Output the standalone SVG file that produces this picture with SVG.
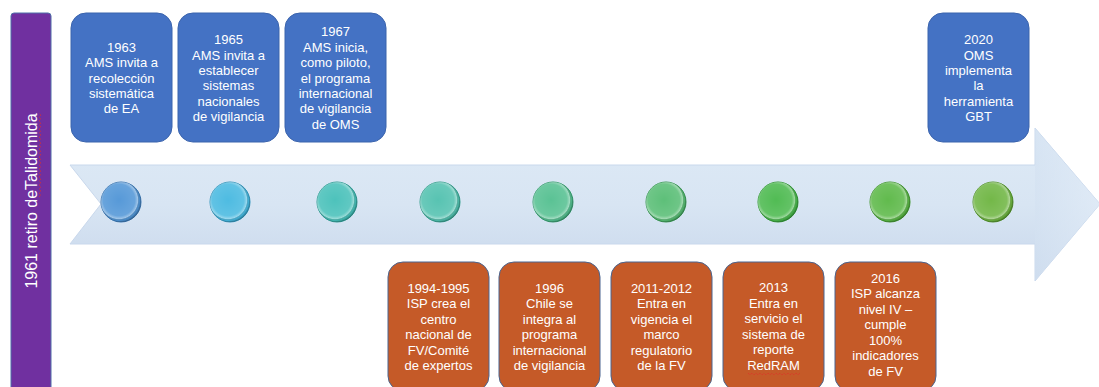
<svg xmlns="http://www.w3.org/2000/svg" width="1099" height="387" viewBox="0 0 1099 387">
<defs>
<style>
.t{font-family:"Liberation Sans",Arial,sans-serif;font-size:13px;fill:#ffffff;text-anchor:middle}
.bb{fill:#4472C4;stroke:#3B64AD;stroke-width:1}
.ob{fill:#C55A28;stroke:#4A6590;stroke-width:1}
.dot{stroke-width:1}
.hl{fill:url(#hl)}
.sq{fill:none;stroke:#E0302A;stroke-width:0.8;stroke-dasharray:1.2 1}
</style>
<linearGradient id="arr" x1="0" y1="0" x2="0" y2="1">
<stop offset="0" stop-color="#DEEAF6"/>
<stop offset="0.5" stop-color="#D8E5F3"/>
<stop offset="1" stop-color="#C8D7EB"/>
</linearGradient>
<linearGradient id="head" x1="0" y1="0" x2="1" y2="0">
<stop offset="0" stop-color="#D3E1F1"/>
<stop offset="1" stop-color="#E3EDF8"/>
</linearGradient>
<radialGradient id="hl" cx="0.45" cy="0.45" r="0.55">
<stop offset="0" stop-color="#ffffff" stop-opacity="0.05"/>
<stop offset="0.72" stop-color="#ffffff" stop-opacity="0.15"/>
<stop offset="0.85" stop-color="#ffffff" stop-opacity="0.45"/>
<stop offset="0.93" stop-color="#000000" stop-opacity="0.05"/>
<stop offset="1" stop-color="#000000" stop-opacity="0.25"/>
</radialGradient>
</defs>
<rect width="1099" height="387" fill="#ffffff"/>

<g id="side-label">
<path d="M11,16 Q11,13 14,13 L48,13 Q51,13 51,16 L51,392 L11,392 Z" fill="#7030A0" stroke="#4F6FA8" stroke-width="1"/>
<text transform="translate(37,201) rotate(-90)" style="font-family:'Liberation Sans',Arial,sans-serif;font-size:16px;fill:#ffffff;text-anchor:middle">1961 retiro deTalidomida</text>
<path class="sq" d="M39,197 L41,195 L39,193 L41,191 L39,189 L41,187 L39,185 L41,183 L39,181 L41,179 L39,177 L41,175 L39,173 L41,171 L39,169 L41,167 L39,165 L41,163 L39,161 L41,159 L39,157 L41,155 L39,153 L41,151 L39,149 L41,147 L39,145 L41,143 L39,141 L41,139 L39,137 L41,135 L39,133 L41,131 L39,129 L41,127 L39,125 L41,123 L39,121 L41,119 L39,117 L41,115 L39,113"/>
</g>

<g id="timeline">
<path d="M70,165 L1035,165 L1035,128 L1100,204 L1035,281 L1035,244 L70,244 L101,204 Z" fill="url(#arr)" stroke="#C9D8EC" stroke-width="1"/>
<path d="M1035,165 L1035,128 L1100,204 L1035,281 L1035,244 Z" fill="url(#head)" opacity="0.6"/>
</g>

<g id="connectors"></g>

<g id="dots">
<circle class="dot" cx="121" cy="202" r="20" fill="#4E94D6" stroke="#3B78B5"/>
<circle class="dot" cx="230" cy="202" r="20" fill="#45B8E0" stroke="#3397BE"/>
<circle class="dot" cx="337" cy="202" r="20" fill="#44BFB8" stroke="#2F9E97"/>
<circle class="dot" cx="440" cy="202" r="20" fill="#4FC0AE" stroke="#35A08F"/>
<circle class="dot" cx="553" cy="202" r="20" fill="#52BF8F" stroke="#379E70"/>
<circle class="dot" cx="666" cy="202" r="20" fill="#55BC72" stroke="#3A9B55"/>
<circle class="dot" cx="778" cy="202" r="20" fill="#48B84B" stroke="#329A36"/>
<circle class="dot" cx="890" cy="202" r="20" fill="#59B744" stroke="#42982F"/>
<circle class="dot" cx="993" cy="202" r="20" fill="#6CB43F" stroke="#54952C"/>
<circle class="hl" cx="121" cy="202" r="20"/>
<circle class="hl" cx="230" cy="202" r="20"/>
<circle class="hl" cx="337" cy="202" r="20"/>
<circle class="hl" cx="440" cy="202" r="20"/>
<circle class="hl" cx="553" cy="202" r="20"/>
<circle class="hl" cx="666" cy="202" r="20"/>
<circle class="hl" cx="778" cy="202" r="20"/>
<circle class="hl" cx="890" cy="202" r="20"/>
<circle class="hl" cx="993" cy="202" r="20"/>
</g>

<g id="n1963">
<rect class="bb" x="71" y="13" width="101" height="129" rx="15"/>
<text class="t" x="121.5" y="52">1963</text>
<text class="t" x="121.5" y="67.3">AMS invita a</text>
<text class="t" x="121.5" y="82.6">recolección</text>
<text class="t" x="121.5" y="97.9">sistemática</text>
<text class="t" x="121.5" y="113.2">de EA</text>
</g>

<g id="n1965">
<rect class="bb" x="178" y="13" width="101" height="129" rx="15"/>
<text class="t" x="228.5" y="44.3">1965</text>
<text class="t" x="228.5" y="59.6">AMS invita a</text>
<text class="t" x="228.5" y="74.9">establecer</text>
<text class="t" x="228.5" y="90.2">sistemas</text>
<text class="t" x="228.5" y="105.5">nacionales</text>
<text class="t" x="228.5" y="120.8">de vigilancia</text>
</g>

<g id="n1967">
<rect class="bb" x="285" y="13" width="101" height="129" rx="15"/>
<text class="t" x="335.5" y="36.3">1967</text>
<text class="t" x="335.5" y="51.7">AMS inicia,</text>
<text class="t" x="335.5" y="67.1">como piloto,</text>
<text class="t" x="335.5" y="82.5">el programa</text>
<text class="t" x="335.5" y="97.9">internacional</text>
<text class="t" x="335.5" y="113.3">de vigilancia</text>
<text class="t" x="335.5" y="128.7">de OMS</text>
</g>

<g id="n2020">
<rect class="bb" x="928" y="13" width="101" height="129" rx="15"/>
<text class="t" x="978.5" y="44.3">2020</text>
<text class="t" x="978.5" y="59.6">OMS</text>
<text class="t" x="978.5" y="74.9">implementa</text>
<text class="t" x="978.5" y="90.2">la</text>
<text class="t" x="978.5" y="105.5">herramienta</text>
<text class="t" x="978.5" y="120.8">GBT</text>
</g>

<g id="n1994">
<rect class="ob" x="388" y="262" width="101" height="129" rx="15"/>
<text class="t" x="438.5" y="292.5">1994-1995</text>
<text class="t" x="438.5" y="308">ISP crea el</text>
<text class="t" x="438.5" y="323.5">centro</text>
<text class="t" x="438.5" y="339">nacional de</text>
<text class="t" x="438.5" y="354.5">FV/Comité</text>
<text class="t" x="438.5" y="370">de expertos</text>
</g>

<g id="n1996">
<rect class="ob" x="499" y="262" width="101" height="129" rx="15"/>
<text class="t" x="549.5" y="292.5">1996</text>
<text class="t" x="549.5" y="308">Chile se</text>
<text class="t" x="549.5" y="323.5">integra al</text>
<text class="t" x="549.5" y="339">programa</text>
<text class="t" x="549.5" y="354.5">internacional</text>
<text class="t" x="549.5" y="370">de vigilancia</text>
</g>

<g id="n2011">
<rect class="ob" x="611" y="262" width="101" height="129" rx="15"/>
<text class="t" x="661.5" y="292.5">2011-2012</text>
<text class="t" x="661.5" y="308">Entra en</text>
<text class="t" x="661.5" y="323.5">vigencia el</text>
<text class="t" x="661.5" y="339">marco</text>
<text class="t" x="661.5" y="354.5">regulatorio</text>
<text class="t" x="661.5" y="370">de la FV</text>
</g>

<g id="n2013">
<rect class="ob" x="723" y="262" width="101" height="129" rx="15"/>
<text class="t" x="773.5" y="292">2013</text>
<text class="t" x="773.5" y="307.5">Entra en</text>
<text class="t" x="773.5" y="323">servicio el</text>
<text class="t" x="773.5" y="338.5">sistema de</text>
<text class="t" x="773.5" y="354">reporte</text>
<text class="t" x="773.5" y="369.5">RedRAM</text>
<path class="sq" d="M748,373 L750,375 L752,373 L754,375 L756,373 L758,375 L760,373 L762,375 L764,373 L766,375 L768,373 L770,375 L772,373 L774,375 L776,373 L778,375 L780,373 L782,375 L784,373 L786,375 L788,373 L790,375 L792,373 L794,375 L796,373 L798,375 L800,373"/>
</g>

<g id="n2016">
<rect class="ob" x="835" y="262" width="101" height="129" rx="15"/>
<text class="t" x="885.5" y="282.5">2016</text>
<text class="t" x="885.5" y="298">ISP alcanza</text>
<text class="t" x="885.5" y="313.5">nivel IV –</text>
<text class="t" x="885.5" y="329">cumple</text>
<text class="t" x="885.5" y="344.5">100%</text>
<text class="t" x="885.5" y="360">indicadores</text>
<text class="t" x="885.5" y="375.5">de FV</text>
</g>
</svg>
